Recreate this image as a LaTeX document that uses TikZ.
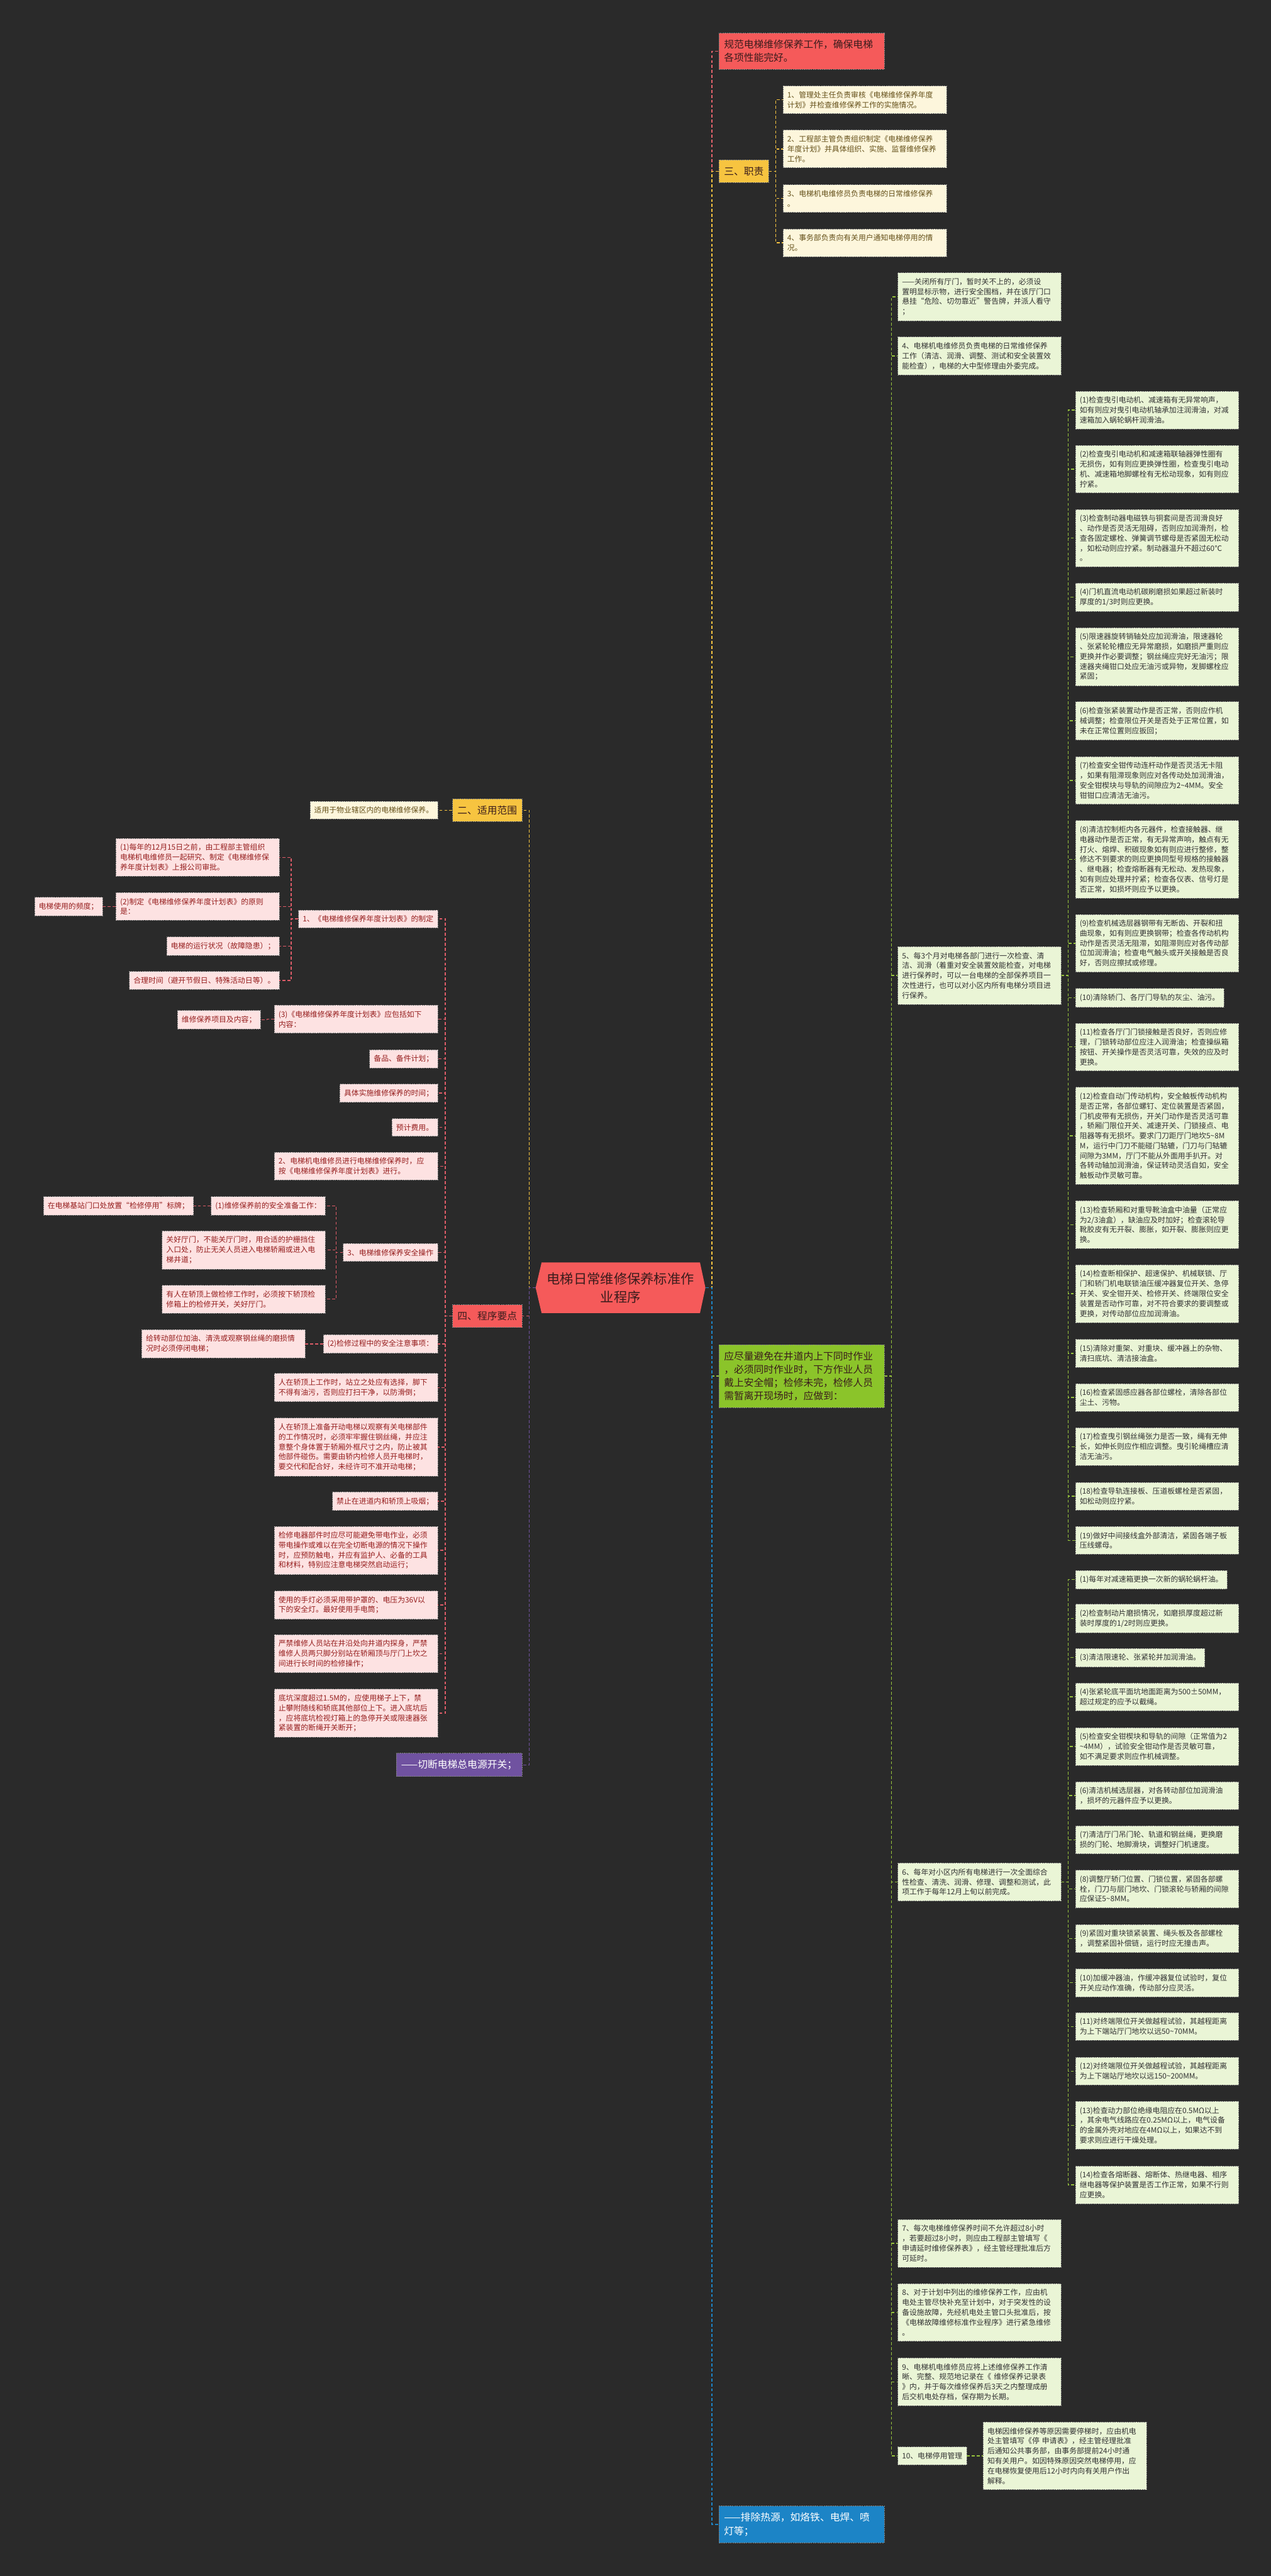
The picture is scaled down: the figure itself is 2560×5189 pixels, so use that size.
\documentclass[tikz,border=0pt]{standalone}
\usepackage{fontspec}
\setmainfont{Noto Sans CJK SC}
\usepackage{tikz}

\definecolor{bgdark}{RGB}{42,42,42}
\definecolor{redmain}{RGB}{245,90,90}
\definecolor{ylwmain}{RGB}{247,196,64}
\definecolor{grnmain}{RGB}{139,196,42}
\definecolor{blumain}{RGB}{28,132,198}
\definecolor{purmain}{RGB}{112,82,160}
\definecolor{hubtext}{RGB}{58,28,28}
\definecolor{creamfill}{RGB}{253,246,220}
\definecolor{creamtext}{RGB}{100,80,25}
\definecolor{mintfill}{RGB}{234,245,214}
\definecolor{minttext}{RGB}{50,50,50}
\definecolor{rosefill}{RGB}{253,226,226}
\definecolor{rosetext}{RGB}{150,30,30}
\definecolor{redline}{RGB}{230,100,110}
\definecolor{grnline}{RGB}{150,195,60}
\definecolor{pnkline}{RGB}{222,92,104}

\newcommand\smallcn{\fontsize{15}{20}\selectfont}
\newcommand\bigcn{\fontsize{20}{27}\selectfont}
\newcommand\rootcn{\fontsize{27}{37}\selectfont}
\newcommand\tld{\textasciitilde}

\begin{document}
\begin{tikzpicture}[x=1pt,y=-1pt,
  box/.style={draw=black!50, dash pattern=on 3pt off 1.5pt, line width=0.9pt,
    inner xsep=8.5pt, inner ysep=11pt, align=left, font=\smallcn},
  hub/.style={box, inner xsep=10pt, inner ysep=13.5pt, font=\bigcn},
  wide/.style={text width=312pt},
  hubwide/.style={text width=313pt},
  cream/.style={box, fill=creamfill, text=creamtext},
  mint/.style={box, fill=mintfill, text=minttext},
  rose/.style={box, fill=rosefill, text=rosetext},
  hubred/.style={hub, fill=redmain, text=hubtext},
  hubylw/.style={hub, fill=ylwmain, text=hubtext},
  hubgrn/.style={hub, fill=grnmain, text=hubtext},
  hubblu/.style={hub, fill=blumain, text=white},
  hubpur/.style={hub, fill=purmain, text=white},
  link/.style={line width=1.8pt, dash pattern=on 6pt off 4pt},
  lnred/.style={link, draw=redline},
  lnylw/.style={link, draw=ylwmain},
  lngrn/.style={link, draw=grnline},
  lnblu/.style={link, draw=blumain},
  lnpur/.style={link, draw=purmain},
  lnpnk/.style={link, draw=pnkline}]

\fill[bgdark] (0,0) rectangle (2560,5189);
\useasboundingbox (0,0) rectangle (2560,5189);

% root
\fill[redmain] (1091,2543) -- (1410,2543) -- (1421,2594) -- (1410,2645)
  -- (1091,2645) -- (1079,2594) -- cycle;
\node[font=\rootcn, text=hubtext, align=center, inner sep=0pt,
  minimum width=342pt, minimum height=102pt] (root) at (1250,2594)
  {电梯日常维修保养标准作\\业程序};

% right side
\node[hubred, hubwide, anchor=west] (goal) at (1448,103) {规范电梯维修保养工作，确保电梯\\各项性能完好。};
\node[hubylw, anchor=west] (duty) at (1448,345) {三、职责};
\node[cream, wide, anchor=west] (d1) at (1577,201) {1、管理处主任负责审核《电梯维修保养年度\\计划》并检查维修保养工作的实施情况。};
\node[cream, wide, anchor=west] (d2) at (1577,300) {2、工程部主管负责组织制定《电梯维修保养\\年度计划》并具体组织、实施、监督维修保养\\工作。};
\node[cream, wide, anchor=west] (d3) at (1577,400) {3、电梯机电维修员负责电梯的日常维修保养\\。};
\node[cream, wide, anchor=west] (d4) at (1577,489) {4、事务部负责向有关用户通知电梯停用的情\\况。};

\node[hubgrn, hubwide, anchor=west] (safe) at (1448,2772) {应尽量避免在井道内上下同时作业\\，必须同时作业时，下方作业人员\\戴上安全帽；检修未完，检修人员\\需暂离开现场时，应做到：};

\node[mint, wide, anchor=west] (s0) at (1808,598) {——关闭所有厅门，暂时关不上的，必须设\\置明显标示物，进行安全围档，并在该厅门口\\悬挂“危险、切勿靠近”警告牌，并派人看守\\；};
\node[mint, wide, anchor=west] (s4) at (1808,717) {4、电梯机电维修员负责电梯的日常维修保养\\工作（清洁、润滑、调整、测试和安全装置效\\能检查），电梯的大中型修理由外委完成。};
\node[mint, wide, anchor=west] (s5) at (1808,1965) {5、每3个月对电梯各部门进行一次检查、清\\洁、润滑（着重对安全装置效能检查，对电梯\\进行保养时，可以一台电梯的全部保养项目一\\次性进行，也可以对小区内所有电梯分项目进\\行保养。};
\node[mint, wide, anchor=west] (s6) at (1808,3791) {6、每年对小区内所有电梯进行一次全面综合\\性检查、清洗、润滑、修理、调整和测试，此\\项工作于每年12月上旬以前完成。};
\node[mint, wide, anchor=west] (s7) at (1808,4519) {7、每次电梯维修保养时间不允许超过8小时\\，若要超过8小时，则应由工程部主管填写《\\申请延时维修保养表》，经主管经理批准后方\\可延时。};
\node[mint, wide, anchor=west] (s8) at (1808,4658) {8、对于计划中列出的维修保养工作，应由机\\电处主管尽快补充至计划中，对于突发性的设\\备设施故障，先经机电处主管口头批准后，按\\《电梯故障维修标准作业程序》进行紧急维修\\。};
\node[mint, wide, anchor=west] (s9) at (1808,4798) {9、电梯机电维修员应将上述维修保养工作清\\晰、完整、规范地记录在《 维修保养记录表\\》内，并于每次维修保养后3天之内整理成册\\后交机电处存档，保存期为长期。};
\node[mint, anchor=west] (s10) at (1808,4947) {10、电梯停用管理};
\node[mint, wide, anchor=west] (stop) at (1980,4947) {电梯因维修保养等原因需要停梯时，应由机电\\处主管填写《停 申请表》，经主管经理批准\\后通知公共事务部，由事务部提前24小时通\\知有关用户。如因特殊原因突然电梯停用，应\\在电梯恢复使用后12小时内向有关用户作出\\解释。};

% every three months
\node[mint, wide, anchor=west] (m1) at (2166,826) {(1)检查曳引电动机、减速箱有无异常响声，\\如有则应对曳引电动机轴承加注润滑油，对减\\速箱加入蜗轮蜗杆润滑油。};
\node[mint, wide, anchor=west] (m2) at (2166,945) {(2)检查曳引电动机和减速箱联轴器弹性圈有\\无损伤，如有则应更换弹性圈，检查曳引电动\\机、减速箱地脚螺栓有无松动现象，如有则应\\拧紧。};
\node[mint, wide, anchor=west] (m3) at (2166,1084) {(3)检查制动器电磁铁与铜套间是否润滑良好\\、动作是否灵活无阻碍，否则应加润滑剂，检\\查各固定螺栓、弹簧调节螺母是否紧固无松动\\，如松动则应拧紧。制动器温升不超过60℃\\。};
\node[mint, wide, anchor=west] (m4) at (2166,1203) {(4)门机直流电动机碳刷磨损如果超过新装时\\厚度的1/3时则应更换。};
\node[mint, wide, anchor=west] (m5) at (2166,1323) {(5)限速器旋转销轴处应加润滑油，限速器轮\\、张紧轮轮槽应无异常磨损，如磨损严重则应\\更换并作必要调整；钢丝绳应完好无油污；限\\速器夹绳钳口处应无油污或异物，发脚螺栓应\\紧固；};
\node[mint, wide, anchor=west] (m6) at (2166,1452) {(6)检查张紧装置动作是否正常，否则应作机\\械调整；检查限位开关是否处于正常位置，如\\未在正常位置则应扳回；};
\node[mint, wide, anchor=west] (m7) at (2166,1572) {(7)检查安全钳传动连杆动作是否灵活无卡阻\\，如果有阻滞现象则应对各传动处加润滑油，\\安全钳楔块与导轨的间隙应为2\tld{}4MM。安全\\钳钳口应清洁无油污。};
\node[mint, wide, anchor=west] (m8) at (2166,1731) {(8)清洁控制柜内各元器件，检查接触器、继\\电器动作是否正常，有无异常声响，触点有无\\打火、熔焊、积碳现象如有则应进行整修，整\\修达不到要求的则应更换同型号规格的接触器\\、继电器；检查熔断器有无松动、发热现象，\\如有则应处理并拧紧；检查各仪表、信号灯是\\否正常，如损坏则应予以更换。};
\node[mint, wide, anchor=west] (m9) at (2166,1900) {(9)检查机械选层器钢带有无断齿、开裂和扭\\曲现象，如有则应更换钢带；检查各传动机构\\动作是否灵活无阻滞，如阻滞则应对各传动部\\位加润滑油；检查电气触头或开关接触是否良\\好，否则应擦拭或修理。};
\node[mint, anchor=west] (m10) at (2166,2010) {(10)清除轿门、各厅门导轨的灰尘、油污。};
\node[mint, wide, anchor=west] (m11) at (2166,2109) {(11)检查各厅门门锁接触是否良好，否则应修\\理，门锁转动部位应注入润滑油；检查操纵箱\\按钮、开关操作是否灵活可靠，失效的应及时\\更换。};
\node[mint, wide, anchor=west] (m12) at (2166,2288) {(12)检查自动门传动机构，安全触板传动机构\\是否正常，各部位螺钉、定位装置是否紧固，\\门机皮带有无损伤，开关门动作是否灵活可靠\\，轿厢门限位开关、减速开关、门锁接点、电\\阻器等有无损坏。要求门刀距厅门地坎5\tld{}8M\\M，运行中门刀不能碰门轱辘，门刀与门轱辘\\间隙为3MM，厅门不能从外面用手扒开。对\\各转动轴加润滑油，保证转动灵活自如，安全\\触板动作灵敏可靠。};
\node[mint, wide, anchor=west] (m13) at (2166,2467) {(13)检查轿厢和对重导靴油盒中油量（正常应\\为2/3油盒），缺油应及时加好；检查滚轮导\\靴胶皮有无开裂、膨胀，如开裂、膨胀则应更\\换。};
\node[mint, wide, anchor=west] (m14) at (2166,2606) {(14)检查断相保护、超速保护、机械联锁、厅\\门和轿门机电联锁油压缓冲器复位开关、急停\\开关、安全钳开关、检修开关、终端限位安全\\装置是否动作可靠，对不符合要求的要调整或\\更换，对传动部位应加润滑油。};
\node[mint, wide, anchor=west] (m15) at (2166,2726) {(15)清除对重架、对重块、缓冲器上的杂物、\\清扫底坑、清洁接油盒。};
\node[mint, wide, anchor=west] (m16) at (2166,2815) {(16)检查紧固感应器各部位螺栓，清除各部位\\尘土、污物。};
\node[mint, wide, anchor=west] (m17) at (2166,2914) {(17)检查曳引钢丝绳张力是否一致，绳有无伸\\长，如伸长则应作相应调整。曳引轮绳槽应清\\洁无油污。};
\node[mint, wide, anchor=west] (m18) at (2166,3014) {(18)检查导轨连接板、压道板螺栓是否紧固，\\如松动则应拧紧。};
\node[mint, wide, anchor=west] (m19) at (2166,3103) {(19)做好中间接线盒外部清洁，紧固各端子板\\压线螺母。};

% every year
\node[mint, anchor=west] (y1) at (2166,3182) {(1)每年对减速箱更换一次新的蜗轮蜗杆油。};
\node[mint, wide, anchor=west] (y2) at (2166,3260) {(2)检查制动片磨损情况，如磨损厚度超过新\\装时厚度的1/2时则应更换。};
\node[mint, anchor=west] (y3) at (2166,3339) {(3)清洁限速轮、张紧轮并加润滑油。};
\node[mint, wide, anchor=west] (y4) at (2166,3418) {(4)张紧轮底平面坑地面距离为500±50MM，\\超过规定的应予以截绳。};
\node[mint, wide, anchor=west] (y5) at (2166,3518) {(5)检查安全钳楔块和导轨的间隙（正常值为2\\\tld{}4MM），试验安全钳动作是否灵敏可靠，\\如不满足要求则应作机械调整。};
\node[mint, wide, anchor=west] (y6) at (2166,3617) {(6)清洁机械选层器，对各转动部位加润滑油\\，损坏的元器件应予以更换。};
\node[mint, wide, anchor=west] (y7) at (2166,3706) {(7)清洁厅门吊门轮、轨道和钢丝绳，更换磨\\损的门轮、地脚滑块，调整好门机速度。};
\node[mint, wide, anchor=west] (y8) at (2166,3805) {(8)调整厅轿门位置、门锁位置，紧固各部螺\\栓，门刀与层门地坎、门锁滚轮与轿厢的间隙\\应保证5\tld{}8MM。};
\node[mint, wide, anchor=west] (y9) at (2166,3905) {(9)紧固对重块锁紧装置、绳头板及各部螺栓\\，调整紧固补偿链，运行时应无撞击声。};
\node[mint, wide, anchor=west] (y10) at (2166,3994) {(10)加缓冲器油，作缓冲器复位试验时，复位\\开关应动作准确，传动部分应灵活。};
\node[mint, wide, anchor=west] (y11) at (2166,4082) {(11)对终端限位开关做越程试验，其越程距离\\为上下端站厅门地坎以远50\tld{}70MM。};
\node[mint, wide, anchor=west] (y12) at (2166,4172) {(12)对终端限位开关做越程试验，其越程距离\\为上下端站厅地坎以远150\tld{}200MM。};
\node[mint, wide, anchor=west] (y13) at (2166,4281) {(13)检查动力部位绝缘电阻应在0.5MΩ以上\\，其余电气线路应在0.25MΩ以上，电气设备\\的金属外壳对地应在4MΩ以上，如果达不到\\要求则应进行干燥处理。};
\node[mint, wide, anchor=west] (y14) at (2166,4401) {(14)检查各熔断器、熔断体、热继电器、相序\\继电器等保护装置是否工作正常，如果不行则\\应更换。};

\node[hubblu, hubwide, anchor=west] (heat) at (1448,5085) {——排除热源，如烙铁、电焊、喷\\灯等；};

% left side
\node[hubylw, anchor=east] (scope) at (1052,1632) {二、适用范围};
\node[cream, anchor=east] (sc1) at (882,1632) {适用于物业辖区内的电梯维修保养。};
\node[hubred, anchor=east] (prog) at (1052,2651) {四、程序要点};
\node[hubpur, anchor=east] (power) at (1052,3555) {——切断电梯总电源开关；};

\node[rose, anchor=east] (p1) at (882,1851) {1、《电梯维修保养年度计划表》的制定};
\node[rose, wide, anchor=east] (p1a) at (563,1727) {(1)每年的12月15日之前，由工程部主管组织\\电梯机电维修员一起研究、制定《电梯维修保\\养年度计划表》上报公司审批。};
\node[rose, wide, anchor=east] (p1b) at (563,1826) {(2)制定《电梯维修保养年度计划表》的原则\\是：};
\node[rose, anchor=east] (freq) at (207,1826) {电梯使用的频度；};
\node[rose, anchor=east] (p1c) at (563,1906) {电梯的运行状况（故障隐患）；};
\node[rose, anchor=east] (p1d) at (563,1975) {合理时间（避开节假日、特殊活动日等）。};

\node[rose, wide, anchor=east] (p3) at (882,2053) {(3)《电梯维修保养年度计划表》应包括如下\\内容：};
\node[rose, anchor=east] (items) at (525,2054) {维修保养项目及内容；};
\node[rose, anchor=east] (spare) at (882,2133) {备品、备件计划；};
\node[rose, anchor=east] (when) at (882,2202) {具体实施维修保养的时间；};
\node[rose, anchor=east] (cost) at (882,2271) {预计费用。};
\node[rose, wide, anchor=east] (p2) at (882,2349) {2、电梯机电维修员进行电梯维修保养时，应\\按《电梯维修保养年度计划表》进行。};

\node[rose, anchor=east] (p3op) at (882,2523) {3、电梯维修保养安全操作};
\node[rose, anchor=east] (prep) at (656,2429) {(1)维修保养前的安全准备工作：};
\node[rose, anchor=east] (sign) at (390,2429) {在电梯基站门口处放置“检修停用”标牌；};
\node[rose, wide, anchor=east] (door) at (656,2518) {关好厅门，不能关厅门时，用合适的护栅挡住\\入口处，防止无关人员进入电梯轿厢或进入电\\梯井道；};
\node[rose, wide, anchor=east] (roof) at (656,2617) {有人在轿顶上做检修工作时，必须按下轿顶检\\修箱上的检修开关，关好厅门。};

\node[rose, anchor=east] (care) at (882,2707) {(2)检修过程中的安全注意事项：};
\node[rose, wide, anchor=east] (oil) at (615,2707) {给转动部位加油、清洗或观察钢丝绳的磨损情\\况时必须停闭电梯；};
\node[rose, wide, anchor=east] (q1) at (882,2795) {人在轿顶上工作时，站立之处应有选择，脚下\\不得有油污，否则应打扫干净，以防滑倒；};
\node[rose, wide, anchor=east] (q2) at (882,2915) {人在轿顶上准备开动电梯以观察有关电梯部件\\的工作情况时，必须牢牢握住钢丝绳，并应注\\意整个身体置于轿厢外框尺寸之内，防止被其\\他部件碰伤。需要由轿内检修人员开电梯时，\\要交代和配合好，未经许可不准开动电梯；};
\node[rose, anchor=east] (q3) at (882,3024) {禁止在进道内和轿顶上吸烟；};
\node[rose, wide, anchor=east] (q4) at (882,3123) {检修电器部件时应尽可能避免带电作业，必须\\带电操作或难以在完全切断电源的情况下操作\\时，应预防触电，并应有监护人、必备的工具\\和材料，特别应注意电梯突然启动运行；};
\node[rose, wide, anchor=east] (q5) at (882,3233) {使用的手灯必须采用带护罩的、电压为36V以\\下的安全灯。最好使用手电筒；};
\node[rose, wide, anchor=east] (q6) at (882,3331) {严禁维修人员站在井沿处向井道内探身，严禁\\维修人员两只脚分别站在轿厢顶与厅门上坎之\\间进行长时间的检修操作；};
\node[rose, wide, anchor=east] (q7) at (882,3451) {底坑深度超过1.5M的，应使用梯子上下，禁\\止攀附随线和轿底其他部位上下。进入底坑后\\，应将底坑检视灯箱上的急停开关或限速器张\\紧装置的断绳开关断开；};

% trunks
\draw[lnred] (root.east) -- ++(13,0) |- (goal.west);
\draw[lnylw] (root.east) -- ++(13,0) |- (duty.west);
\draw[lngrn] (root.east) -- ++(13,0) |- (safe.west);
\draw[lnblu] (root.east) -- ++(13,0) |- (heat.west);
\draw[lnylw] (root.west) -- ++(-13,0) |- (scope.east);
\draw[lnpnk] (root.west) -- ++(-13,0) |- (prog.east);
\draw[lnpur] (root.west) -- ++(-13,0) |- (power.east);

% duties
\draw[lnylw] (duty.east) -- ++(14,0) |- (d1.west);
\draw[lnylw] (duty.east) -- ++(14,0) |- (d2.west);
\draw[lnylw] (duty.east) -- ++(14,0) |- (d3.west);
\draw[lnylw] (duty.east) -- ++(14,0) |- (d4.west);

% green branch
\draw[lngrn] (safe.east) -- ++(14,0) |- (s0.west);
\draw[lngrn] (safe.east) -- ++(14,0) |- (s4.west);
\draw[lngrn] (safe.east) -- ++(14,0) |- (s5.west);
\draw[lngrn] (safe.east) -- ++(14,0) |- (s6.west);
\draw[lngrn] (safe.east) -- ++(14,0) |- (s7.west);
\draw[lngrn] (safe.east) -- ++(14,0) |- (s8.west);
\draw[lngrn] (safe.east) -- ++(14,0) |- (s9.west);
\draw[lngrn] (safe.east) -- ++(14,0) |- (s10.west);
\draw[lngrn] (s10.east) -- ++(14,0) |- (stop.west);

\draw[lngrn] (s5.east) -- ++(14,0) |- (m1.west);
\draw[lngrn] (s5.east) -- ++(14,0) |- (m2.west);
\draw[lngrn] (s5.east) -- ++(14,0) |- (m3.west);
\draw[lngrn] (s5.east) -- ++(14,0) |- (m4.west);
\draw[lngrn] (s5.east) -- ++(14,0) |- (m5.west);
\draw[lngrn] (s5.east) -- ++(14,0) |- (m6.west);
\draw[lngrn] (s5.east) -- ++(14,0) |- (m7.west);
\draw[lngrn] (s5.east) -- ++(14,0) |- (m8.west);
\draw[lngrn] (s5.east) -- ++(14,0) |- (m9.west);
\draw[lngrn] (s5.east) -- ++(14,0) |- (m10.west);
\draw[lngrn] (s5.east) -- ++(14,0) |- (m11.west);
\draw[lngrn] (s5.east) -- ++(14,0) |- (m12.west);
\draw[lngrn] (s5.east) -- ++(14,0) |- (m13.west);
\draw[lngrn] (s5.east) -- ++(14,0) |- (m14.west);
\draw[lngrn] (s5.east) -- ++(14,0) |- (m15.west);
\draw[lngrn] (s5.east) -- ++(14,0) |- (m16.west);
\draw[lngrn] (s5.east) -- ++(14,0) |- (m17.west);
\draw[lngrn] (s5.east) -- ++(14,0) |- (m18.west);
\draw[lngrn] (s5.east) -- ++(14,0) |- (m19.west);

\draw[lngrn] (s6.east) -- ++(14,0) |- (y1.west);
\draw[lngrn] (s6.east) -- ++(14,0) |- (y2.west);
\draw[lngrn] (s6.east) -- ++(14,0) |- (y3.west);
\draw[lngrn] (s6.east) -- ++(14,0) |- (y4.west);
\draw[lngrn] (s6.east) -- ++(14,0) |- (y5.west);
\draw[lngrn] (s6.east) -- ++(14,0) |- (y6.west);
\draw[lngrn] (s6.east) -- ++(14,0) |- (y7.west);
\draw[lngrn] (s6.east) -- ++(14,0) |- (y8.west);
\draw[lngrn] (s6.east) -- ++(14,0) |- (y9.west);
\draw[lngrn] (s6.east) -- ++(14,0) |- (y10.west);
\draw[lngrn] (s6.east) -- ++(14,0) |- (y11.west);
\draw[lngrn] (s6.east) -- ++(14,0) |- (y12.west);
\draw[lngrn] (s6.east) -- ++(14,0) |- (y13.west);
\draw[lngrn] (s6.east) -- ++(14,0) |- (y14.west);

% left branches
\draw[lnylw] (scope.west) -- ++(-14,0) |- (sc1.east);

\draw[lnpnk] (prog.west) -- ++(-14,0) |- (p1.east);
\draw[lnpnk] (prog.west) -- ++(-14,0) |- (p3.east);
\draw[lnpnk] (prog.west) -- ++(-14,0) |- (spare.east);
\draw[lnpnk] (prog.west) -- ++(-14,0) |- (when.east);
\draw[lnpnk] (prog.west) -- ++(-14,0) |- (cost.east);
\draw[lnpnk] (prog.west) -- ++(-14,0) |- (p2.east);
\draw[lnpnk] (prog.west) -- ++(-14,0) |- (p3op.east);
\draw[lnpnk] (prog.west) -- ++(-14,0) |- (care.east);
\draw[lnpnk] (prog.west) -- ++(-14,0) |- (q1.east);
\draw[lnpnk] (prog.west) -- ++(-14,0) |- (q2.east);
\draw[lnpnk] (prog.west) -- ++(-14,0) |- (q3.east);
\draw[lnpnk] (prog.west) -- ++(-14,0) |- (q4.east);
\draw[lnpnk] (prog.west) -- ++(-14,0) |- (q5.east);
\draw[lnpnk] (prog.west) -- ++(-14,0) |- (q6.east);
\draw[lnpnk] (prog.west) -- ++(-14,0) |- (q7.east);

\draw[lnpnk] (p1.west) -- ++(-14,0) |- (p1a.east);
\draw[lnpnk] (p1.west) -- ++(-14,0) |- (p1b.east);
\draw[lnpnk] (p1.west) -- ++(-14,0) |- (p1c.east);
\draw[lnpnk] (p1.west) -- ++(-14,0) |- (p1d.east);
\draw[lnpnk] (p1b.west) -- ++(-14,0) |- (freq.east);
\draw[lnpnk] (p3.west) -- ++(-14,0) |- (items.east);
\draw[lnpnk] (p3op.west) -- ++(-14,0) |- (prep.east);
\draw[lnpnk] (p3op.west) -- ++(-14,0) |- (door.east);
\draw[lnpnk] (p3op.west) -- ++(-14,0) |- (roof.east);
\draw[lnpnk] (prep.west) -- ++(-14,0) |- (sign.east);
\draw[lnpnk] (care.west) -- ++(-14,0) |- (oil.east);

\end{tikzpicture}
\end{document}
